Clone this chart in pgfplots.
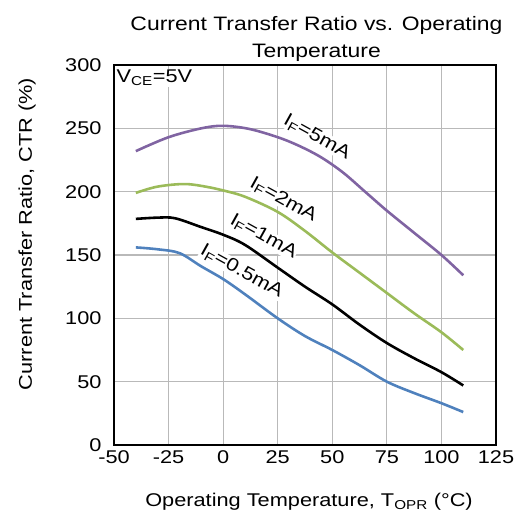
\documentclass[border=0pt]{standalone}
\usepackage{fontspec}
\setmainfont[FakeStretch=1.18]{Liberation Sans}
\usepackage{pgfplots}
\pgfplotsset{compat=1.18}
\definecolor{cpurple}{RGB}{128,100,162}
\definecolor{cgreen}{RGB}{155,187,89}
\definecolor{cblue}{RGB}{79,129,189}
\newcommand\bigf{\fontsize{18.5}{22}\selectfont}
\newcommand\titf{\fontsize{19.5}{23}\selectfont}
\begin{document}
\begin{tikzpicture}
\begin{axis}[
  scale only axis, width=382bp, height=380bp,
  xmin=-50, xmax=125, ymin=0, ymax=300,
  xtick={-50,-25,...,125}, ytick={0,50,...,300},
  /pgf/number format/assume math mode=true,
  tick label style={font=\bigf},
  major tick length=0pt,
  grid=major,
  grid style={gray!55, line width=1.2pt},
  axis line style={line width=1.3pt},
  xticklabel style={yshift=-2bp},
  yticklabel style={xshift=-9bp},
  clip=true,
]
\addplot[cpurple, line width=2.6pt, smooth, tension=0.55] coordinates {
(-40,232) (-25,243) (-10,250) (0,252) (12,249.5) (25,243) (35,236) (45,227) (55,215) (65,200) (75,185) (87.5,167.5) (100,150) (110,134)};
\addplot[cgreen, line width=2.6pt, smooth, tension=0.55] coordinates {
(-40,199) (-30,204) (-17,206) (-5,203) (0,201) (10,196) (25,184) (37.5,169) (50,152) (62.5,136) (75,120) (87.5,104) (100,89) (110,75)};
\addplot[black, line width=2.6pt, smooth, tension=0.55] coordinates {
(-40,178.5) (-30,179.5) (-22,179) (-10,172) (0,166) (10,158) (25,140) (37.5,125) (50,111) (62.5,95) (75,80.5) (87.5,68.5) (100,57.5) (110,47)};
\addplot[cblue, line width=2.6pt, smooth, tension=0.55] coordinates {
(-40,156) (-30,154.5) (-20,151.5) (-10,141) (0,131) (10,119) (25,100) (37.5,86) (50,75) (62.5,63) (75,50) (87.5,41) (100,33) (110,26)};
\node[font=\bigf, rotate=-29, fill=white, inner sep=0.5pt] at (axis cs:43,243) {I\textsubscript{F}=5mA};
\node[font=\bigf, rotate=-29, fill=white, inner sep=0.5pt] at (axis cs:27.6,193.5) {I\textsubscript{F}=2mA};
\node[font=\bigf, rotate=-29, fill=white, inner sep=0.5pt] at (axis cs:18.5,164.5) {I\textsubscript{F}=1mA};
\node[font=\bigf, rotate=-29, fill=white, inner sep=0.5pt] at (axis cs:8.5,137) {I\textsubscript{F}=0.5mA};
\node[font=\bigf, anchor=north west, fill=white, inner sep=1pt] at ([xshift=1.5bp,yshift=-4bp]rel axis cs:0,1) {V\textsubscript{CE}=5V};
\end{axis}
\node[font=\titf, anchor=base] at (202.5bp,414bp) {Current Transfer Ratio vs. Operating};
\node[font=\titf, anchor=base] at (202.5bp,387bp) {Temperature};
\node[font=\bigf] at (195bp,-57bp) {Operating Temperature, T\textsubscript{OPR} (°C)};
\node[font=\bigf, rotate=90] at (-87bp,211bp) {Current Transfer Ratio, CTR (\%)};
\pgfresetboundingbox
\path[use as bounding box] (-114bp,-79bp) rectangle (402bp,445bp);
\end{tikzpicture}
\end{document}
